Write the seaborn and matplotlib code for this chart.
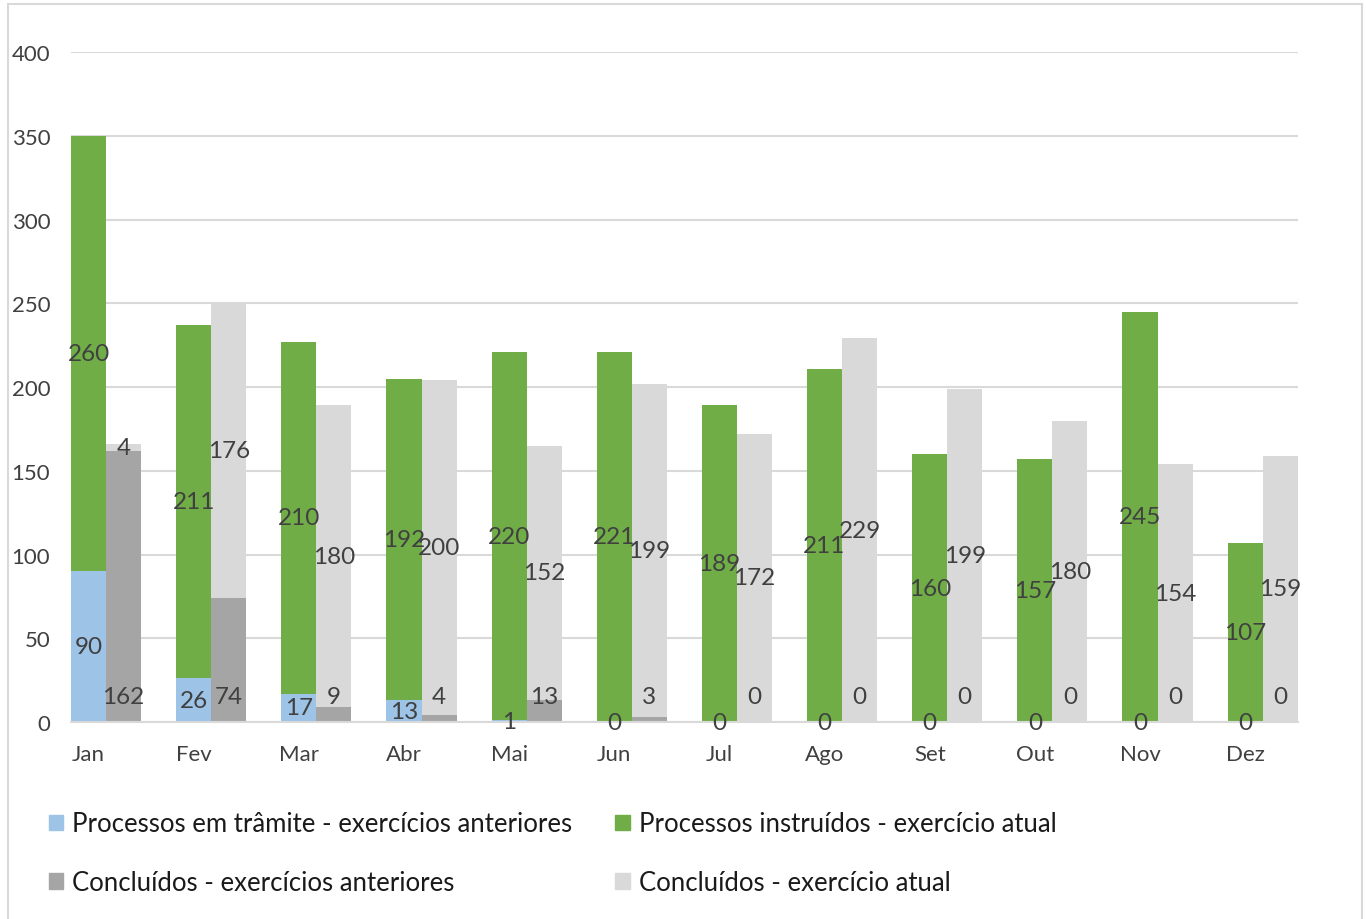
import numpy as np
import pandas as pd
import matplotlib
matplotlib.use("Agg")
import matplotlib.pyplot as plt
from matplotlib.patches import Patch, Rectangle
import seaborn as sns

months = ["Jan", "Fev", "Mar", "Abr", "Mai", "Jun", "Jul", "Ago", "Set", "Out", "Nov", "Dez"]
tramite_ant = [90, 26, 17, 13, 1, 0, 0, 0, 0, 0, 0, 0]
instruidos_atual = [260, 211, 210, 192, 220, 221, 189, 211, 160, 157, 245, 107]
concluidos_ant = [162, 74, 9, 4, 13, 3, 0, 0, 0, 0, 0, 0]
concluidos_atual = [4, 176, 180, 200, 152, 199, 172, 229, 199, 180, 154, 159]

series_names = ["Processos em trâmite - exercícios anteriores",
                "Processos instruídos - exercício atual",
                "Concluídos - exercícios anteriores",
                "Concluídos - exercício atual"]
c_blue, c_green, c_dgray, c_lgray = "#9dc3e6", "#70ad47", "#a5a5a5", "#d9d9d9"

sns.set_style("white")
plt.rcParams['font.family'] = ['Lato', 'DejaVu Sans']

# totals (top of each stack) and bottoms, in long form for seaborn's dodge
tot = pd.DataFrame({
    "month": months * 2,
    "side": ["left"] * 12 + ["right"] * 12,
    "value": list(np.add(tramite_ant, instruidos_atual)) + list(np.add(concluidos_ant, concluidos_atual)),
})
bot = pd.DataFrame({
    "month": months * 2,
    "side": ["left"] * 12 + ["right"] * 12,
    "value": tramite_ant + concluidos_ant,
})

fig = plt.figure(figsize=(13.66, 9.2), dpi=100)
ax = fig.add_axes([0.052, 0.2141, 0.898, 0.7283])

sns.barplot(data=tot, x="month", y="value", hue="side", hue_order=["left", "right"],
            palette={"left": c_green, "right": c_lgray}, order=months, width=2/3,
            dodge=True, errorbar=None, saturation=1, linewidth=0, legend=False, ax=ax)
sns.barplot(data=bot, x="month", y="value", hue="side", hue_order=["left", "right"],
            palette={"left": c_blue, "right": c_dgray}, order=months, width=2/3,
            dodge=True, errorbar=None, saturation=1, linewidth=0, legend=False, ax=ax)

ax.set_ylim(0, 400)
ax.set_xlim(-1/3, 11 + 1/3)
ax.set_yticks(np.arange(0, 401, 50))
ax.yaxis.grid(True, color="#d9d9d9", linewidth=1.5)
ax.set_axisbelow(True)
for s in ["top", "right", "left"]:
    ax.spines[s].set_visible(False)
ax.spines["bottom"].set_color("#d9d9d9")
ax.spines["bottom"].set_linewidth(1.5)
ax.set_xticks(np.arange(12) - 1/6, months)
ax.tick_params(axis="both", length=0, labelsize=16, colors="#404040")
ax.tick_params(axis="y", pad=15)
ax.tick_params(axis="x", pad=16)
ax.set_xlabel("")
ax.set_ylabel("")

lab = dict(ha="center", va="center", fontsize=17.5, color="#404040")
for i in range(12):
    xl, xr = i - 1/6, i + 1/6
    ax.text(xl, tramite_ant[i] / 2, str(tramite_ant[i]), **lab)
    ax.text(xl, tramite_ant[i] + instruidos_atual[i] / 2, str(instruidos_atual[i]), **lab)
    ax.text(xr, 15.5, str(concluidos_ant[i]), **lab)
    ax.text(xr, concluidos_ant[i] + concluidos_atual[i] / 2, str(concluidos_atual[i]), **lab)

handles = [Patch(color=c_blue, label=series_names[0]),
           Patch(color=c_dgray, label=series_names[2]),
           Patch(color=c_green, label=series_names[1]),
           Patch(color=c_lgray, label=series_names[3])]
fig.legend(handles=handles, ncol=2, loc="upper left", bbox_to_anchor=(0.028, 0.1282),
           frameon=False, fontsize=18.5, labelcolor="#1a1a1a",
           handlelength=0.55, handleheight=0.55, handletextpad=0.35,
           labelspacing=1.32, columnspacing=1.7, borderaxespad=0)

fig.add_artist(Rectangle((8 / 1366, -0.01), 1354 / 1366, 1 - 5 / 920 + 0.01,
                         transform=fig.transFigure, fill=False,
                         edgecolor="#d9d9d9", linewidth=1.5))

fig.savefig("out.png", dpi=100)
